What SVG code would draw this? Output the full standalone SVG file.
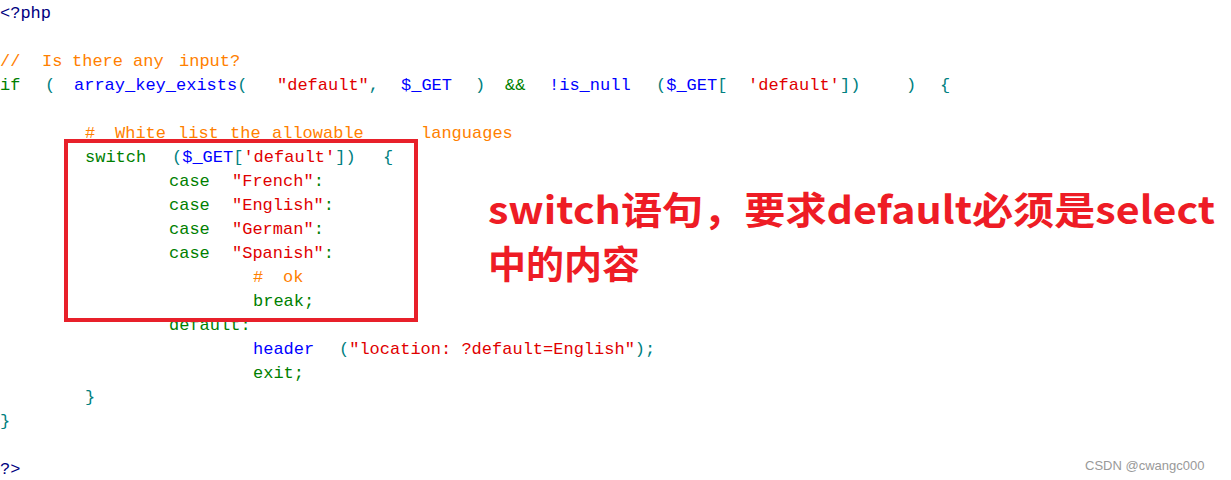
<svg xmlns="http://www.w3.org/2000/svg" width="1231" height="480" viewBox="0 0 1231 480">
<style>
text{font-family:"Liberation Mono","DejaVu Sans Mono",monospace;font-size:17px}
.k{fill:#008000}.f{fill:#0000ff}.s{fill:#e00000}.c{fill:#ff8000}.p{fill:#008080}.d{fill:#000080}
.big{font-family:"Noto Sans CJK SC","Liberation Sans",sans-serif;font-size:38px;font-weight:bold;fill:#ee1c25}
</style>
<rect width="1231" height="480" fill="#fff"/>
<g id="code" xml:space="preserve">
<text x="0" y="18" class="d">&lt;?php</text>
<text y="66" class="c"><tspan x="0">//</tspan><tspan x="42">Is</tspan><tspan x="72">there</tspan><tspan x="133">any</tspan><tspan x="179">input?</tspan></text>
<text y="90"><tspan x="0" class="k">if</tspan><tspan x="45" class="p">(</tspan><tspan x="74" class="f">array_key_exists</tspan><tspan class="p">(</tspan><tspan x="277" class="s">"default"</tspan><tspan class="p">,</tspan><tspan x="401" class="f">$_GET</tspan><tspan x="475" class="p">)</tspan><tspan x="505" class="k">&amp;&amp;</tspan><tspan x="549" class="f">!is_null</tspan><tspan x="656" class="p">(</tspan><tspan class="f">$_GET</tspan><tspan class="p">[</tspan><tspan x="748" class="s">'default'</tspan><tspan x="840" class="p">])</tspan><tspan x="906" class="p">)</tspan><tspan x="940" class="p">{</tspan></text>
<text y="138" class="c"><tspan x="85">#</tspan><tspan x="115">White</tspan><tspan x="178">list</tspan><tspan x="230">the</tspan><tspan x="272">allowable</tspan><tspan x="421">languages</tspan></text>
<text y="162"><tspan x="85" class="k">switch</tspan><tspan x="172" class="p">(</tspan><tspan class="f">$_GET</tspan><tspan class="p">[</tspan><tspan class="s">'default'</tspan><tspan class="p">])</tspan><tspan x="383" class="p">{</tspan></text>
<text y="186"><tspan x="169" class="k">case</tspan><tspan x="232" class="s">"French"</tspan><tspan class="k">:</tspan></text>
<text y="210"><tspan x="169" class="k">case</tspan><tspan x="232" class="s">"English"</tspan><tspan class="k">:</tspan></text>
<text y="234"><tspan x="169" class="k">case</tspan><tspan x="232" class="s">"German"</tspan><tspan class="k">:</tspan></text>
<text y="258"><tspan x="169" class="k">case</tspan><tspan x="232" class="s">"Spanish"</tspan><tspan class="k">:</tspan></text>
<text y="282" class="c"><tspan x="253">#</tspan><tspan x="283">ok</tspan></text>
<text y="306" class="k"><tspan x="253">break;</tspan></text>
<text y="330" class="k"><tspan x="169">default:</tspan></text>
<text y="354"><tspan x="253" class="f">header</tspan><tspan x="339" class="p">(</tspan><tspan class="s">"location:  ?default=English"</tspan><tspan class="p">);</tspan></text>
<text y="378" class="k"><tspan x="253">exit;</tspan></text>
<text y="402" class="p"><tspan x="85">}</tspan></text>
<text y="426" class="p"><tspan x="0">}</tspan></text>
<text y="474" class="d"><tspan x="0">?&gt;</tspan></text>
</g>
<g id="highlight"><rect x="66" y="141" width="350" height="179" fill="none" stroke="#e8202a" stroke-width="4"/></g>
<g id="note">
<text class="big" x="488" y="224" textLength="727" lengthAdjust="spacingAndGlyphs">switch语句，要求default必须是select</text>
<text class="big" x="488" y="278">中的内容</text>
</g>
<text x="1085" y="470" style="font-family:'Liberation Sans',sans-serif;font-size:13px;fill:#999">CSDN @cwangc000</text>
</svg>
